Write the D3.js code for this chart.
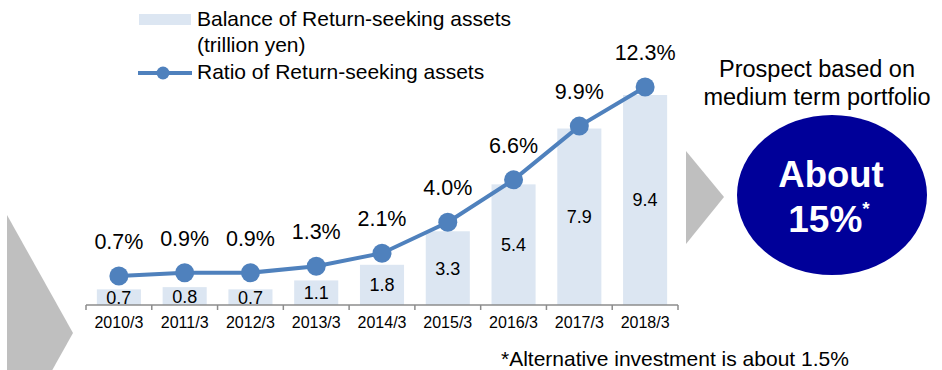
<!DOCTYPE html>
<html>
<head>
<meta charset="utf-8">
<script src="https://cdn.jsdelivr.net/npm/d3@7/dist/d3.min.js"></script>
<style>
  html, body { margin: 0; padding: 0; background: #fff; }
  svg { display: block; font-family: "Liberation Sans", Arial, sans-serif; }
</style>
</head>
<body>
<svg id="chart" width="942" height="370"></svg>
<script>
// Fiscal year-ends
const years = ["2010/3", "2011/3", "2012/3", "2013/3", "2014/3", "2015/3", "2016/3", "2017/3", "2018/3"];
// Balance of return-seeking assets (trillion yen)
const balance = [0.7, 0.8, 0.7, 1.1, 1.8, 3.3, 5.4, 7.9, 9.4];
// Ratio of return-seeking assets (%)
const ratio = [0.7, 0.9, 0.9, 1.3, 2.1, 4.0, 6.6, 9.9, 12.3];

const svg = d3.select("#chart");
const lineColor = "#4f81bd";
const barColor = "#dce6f2";

const x = d3.scaleBand().domain(years).range([86, 678]).paddingInner(0.33).paddingOuter(0.165);
const yBar = d3.scaleLinear().domain([0, 10]).range([305, 81.6]);
const yLine = d3.scaleLinear().domain([0, 14]).range([287.4, 59.3]);

// Grey chevrons
svg.append("polygon").attr("points", "7,215 73,333 7,451").attr("fill", "#bfbfbf");
svg.append("polygon").attr("points", "686,151 724,197 686,244").attr("fill", "#bfbfbf");

// Bars
svg.append("g").selectAll("rect").data(balance).join("rect")
  .attr("x", (d, i) => x(years[i]))
  .attr("y", d => yBar(d))
  .attr("width", x.bandwidth())
  .attr("height", d => yBar(0) - yBar(d))
  .attr("fill", barColor);

// Category axis: line with ticks at band boundaries
const axisY = yBar(0);
const axis = svg.append("g");
axis.append("line").attr("x1", 86).attr("x2", 678).attr("y1", axisY).attr("y2", axisY)
  .attr("stroke", "#8c8c8c").attr("stroke-width", 1.5);
const bounds = d3.range(years.length + 1).map(i => 86 + i * x.step());
axis.selectAll("line.tick").data(bounds).join("line").attr("class", "tick")
  .attr("x1", d => d).attr("x2", d => d).attr("y1", axisY).attr("y2", axisY + 5)
  .attr("stroke", "#8c8c8c").attr("stroke-width", 1.5);
axis.selectAll("text").data(years).join("text")
  .attr("x", d => x(d) + x.bandwidth() / 2).attr("y", 328)
  .attr("text-anchor", "middle").attr("font-size", 16).attr("fill", "#000")
  .text(d => d);

// Bar value labels
svg.append("g").selectAll("text").data(balance).join("text")
  .attr("x", (d, i) => x(years[i]) + x.bandwidth() / 2)
  .attr("y", d => (yBar(d) + yBar(0)) / 2)
  .attr("dy", "0.36em")
  .attr("text-anchor", "middle").attr("font-size", 18).attr("fill", "#000")
  .text(d => d.toFixed(1));

// Ratio line
const cx = (d, i) => x(years[i]) + x.bandwidth() / 2;
svg.append("path").datum(ratio)
  .attr("d", d3.line().x(cx).y(d => yLine(d)))
  .attr("fill", "none").attr("stroke", lineColor).attr("stroke-width", 4);
svg.append("g").selectAll("circle").data(ratio).join("circle")
  .attr("cx", cx).attr("cy", d => yLine(d)).attr("r", 9.5).attr("fill", lineColor);
svg.append("g").selectAll("text").data(ratio).join("text")
  .attr("x", cx).attr("y", d => yLine(d) - 27)
  .attr("text-anchor", "middle").attr("font-size", 21.5).attr("fill", "#000")
  .text(d => d.toFixed(1) + "%");

// Legend
const lg = svg.append("g");
lg.append("rect").attr("x", 139).attr("y", 14).attr("width", 52).attr("height", 11).attr("fill", barColor);
lg.append("text").attr("x", 197).attr("y", 26).attr("font-size", 21).text("Balance of Return-seeking assets");
lg.append("text").attr("x", 197).attr("y", 52).attr("font-size", 21).text("(trillion yen)");
lg.append("line").attr("x1", 138).attr("x2", 192).attr("y1", 73).attr("y2", 73)
  .attr("stroke", lineColor).attr("stroke-width", 4);
lg.append("circle").attr("cx", 163).attr("cy", 73).attr("r", 6.5).attr("fill", lineColor);
lg.append("text").attr("x", 197).attr("y", 79).attr("font-size", 21).text("Ratio of Return-seeking assets");

// Prospect callout
svg.append("text").attr("x", 817).attr("y", 77).attr("text-anchor", "middle").attr("font-size", 23.5).text("Prospect based on");
svg.append("text").attr("x", 817).attr("y", 105).attr("text-anchor", "middle").attr("font-size", 23.5).text("medium term portfolio");
svg.append("ellipse").attr("cx", 832).attr("cy", 195).attr("rx", 95).attr("ry", 80).attr("fill", "#000099");
svg.append("text").attr("x", 831).attr("y", 187).attr("text-anchor", "middle")
  .attr("font-size", 36.5).attr("font-weight", "bold").attr("fill", "#fff").text("About");
const t2 = svg.append("text").attr("x", 829).attr("y", 232).attr("text-anchor", "middle")
  .attr("font-weight", "bold").attr("fill", "#fff");
t2.append("tspan").attr("font-size", 37).text("15%");
t2.append("tspan").attr("font-size", 19).attr("dy", -17).text("*");

// Footnote
svg.append("text").attr("x", 501).attr("y", 366).attr("font-size", 21).text("*Alternative investment is about 1.5%");
</script>
</body>
</html>
